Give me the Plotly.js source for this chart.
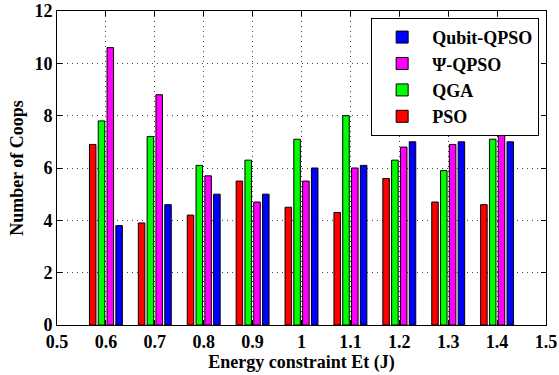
<!DOCTYPE html>
<html><head><meta charset="utf-8">
<script src="https://cdn.plot.ly/plotly-3.0.1.min.js"></script>
<style>html,body{margin:0;padding:0;background:#fff}</style>
</head><body>
<div id="chart" style="width:559px;height:375px"></div>
<script>
const energy = [0.6, 0.7, 0.8, 0.9, 1.0, 1.1, 1.2, 1.3, 1.4];
const pso = [6.9, 3.9, 4.2, 5.5, 4.5, 4.3, 5.6, 4.7, 4.6];
const qga = [7.8, 7.2, 6.1, 6.3, 7.1, 8.0, 6.3, 5.9, 7.1];
const psiQpso = [10.6, 8.8, 5.7, 4.7, 5.5, 6.0, 6.8, 6.9, 7.6];
const qubitQpso = [3.8, 4.6, 5.0, 5.0, 6.0, 6.1, 7.0, 7.0, 7.0];
const xTickVals = [0.5, 0.6, 0.7, 0.8, 0.9, 1.0, 1.1, 1.2, 1.3, 1.4, 1.5];
const xTickText = ['0.5','0.6','0.7','0.8','0.9','1','1.1','1.2','1.3','1.4','1.5'];
const yTickVals = [0, 2, 4, 6, 8, 10, 12];

const font = {family: 'Liberation Serif, Times New Roman, serif', color: '#000'};
function bar(name, y, color) {
  return {type: 'bar', name: name, x: energy, y: y,
    marker: {color: color, line: {color: '#000', width: 1}}};
}
const data = [
  bar('PSO', pso, '#ff0000'),
  bar('QGA', qga, '#00ff00'),
  bar('\u03A8-QPSO', psiQpso, '#ff00ff'),
  bar('Qubit-QPSO', qubitQpso, '#0000ff')
];
const axisCommon = {
  showline: true, linecolor: '#000', linewidth: 1, mirror: 'ticks',
  ticks: 'inside', ticklen: 5, tickcolor: '#000',
  showgrid: true, gridcolor: '#444', griddash: '1px,4px', gridwidth: 1,
  zeroline: false,
  tickfont: Object.assign({}, font, {size: 18, weight: 700})
};
const layout = {
  width: 559, height: 375,
  font: Object.assign({}, font, {weight: 700}),
  margin: {l: 57, r: 13, t: 11, b: 50},
  paper_bgcolor: '#fff', plot_bgcolor: '#fff',
  barmode: 'group', bargap: 0.28, bargroupgap: 0.26,
  showlegend: true,
  legend: {x: 0.986, y: 0.978, xanchor: 'right', yanchor: 'top',
    traceorder: 'reversed', bgcolor: '#fff', bordercolor: '#000', borderwidth: 1,
    font: Object.assign({}, font, {size: 18, weight: 700}),
    itemwidth: 50, tracegroupgap: 0},
  xaxis: Object.assign({}, axisCommon, {
    range: [0.5, 1.5], tickvals: xTickVals, ticktext: xTickText,
    title: {text: 'Energy constraint Et (J)', standoff: 2,
      font: Object.assign({}, font, {size: 18, weight: 700})}
  }),
  yaxis: Object.assign({}, axisCommon, {
    range: [0, 12], tickvals: yTickVals,
    title: {text: 'Number of Coops', standoff: 6,
      font: Object.assign({}, font, {size: 18, weight: 700})}
  })
};
Plotly.newPlot('chart', data, layout, {displayModeBar: false});
</script>
</body></html>
